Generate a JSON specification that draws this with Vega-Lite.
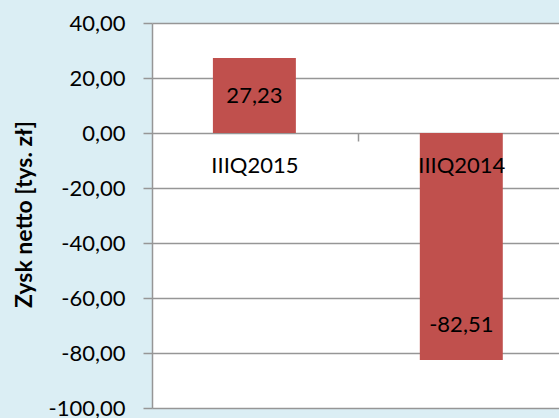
{
  "$schema": "https://vega.github.io/schema/vega-lite/v6.json",
  "width": 407,
  "height": 385,
  "autosize": {"type": "none"},
  "padding": {"left": 152, "top": 23, "right": 0, "bottom": 10},
  "background": "#dbeef4",
  "data": {"values": [
    {"kwartal": "IIIQ2015", "zysk": 27.23},
    {"kwartal": "IIIQ2014", "zysk": -82.51}
  ]},
  "encoding": {
    "x": {
      "field": "kwartal", "type": "nominal", "sort": null,
      "scale": {"paddingInner": 0.599, "paddingOuter": 0.283, "align": 0.52},
      "axis": {
        "title": null, "orient": "bottom", "offset": -275, "domain": false,
        "ticks": true, "tickOffset": 103.5, "labelOffset": -103.5,
        "tickSize": 8, "tickColor": "#969696", "tickWidth": 1.5,
        "grid": false, "labelPadding": 14, "labelFontSize": 22, "labelFont": "Lato",
        "labelColor": "black", "labelAngle": 0, "zindex": 1
      }
    },
    "y": {
      "field": "zysk", "type": "quantitative",
      "scale": {"domain": [-100, 40], "nice": false, "zero": true},
      "axis": {
        "title": "Zysk netto [tys. zł]",
        "values": [-100, -80, -60, -40, -20, 0, 20, 40],
        "format": ".2f",
        "tickSize": 9, "tickColor": "#969696", "tickWidth": 1.5,
        "domainColor": "#969696", "domainWidth": 1.5,
        "grid": true, "gridColor": "#969696", "gridWidth": 1.5,
        "labelPadding": 18, "labelFontSize": 22, "labelFont": "Lato", "labelColor": "black",
        "titleFont": "Lato", "titleFontSize": 23, "titleFontWeight": "bold", "titleColor": "black",
        "titleX": -128, "titleY": 191, "titleBaseline": "middle", "titleAlign": "center", "titleAngle": -90
      }
    }
  },
  "layer": [
    {"mark": {"type": "bar", "color": "#c0504d"}},
    {
      "transform": [{"filter": "datum.zysk >= 0"}],
      "mark": {"type": "text", "dy": 38, "font": "Lato", "fontSize": 22, "color": "black", "baseline": "middle"},
      "encoding": {"text": {"field": "zysk", "type": "quantitative", "format": ".2f"}}
    },
    {
      "transform": [{"filter": "datum.zysk < 0"}],
      "mark": {"type": "text", "dy": -35, "font": "Lato", "fontSize": 22, "color": "black", "baseline": "middle"},
      "encoding": {"text": {"field": "zysk", "type": "quantitative", "format": ".2f"}}
    }
  ],
  "config": {
    "locale": {"number": {"decimal": ",", "thousands": " ", "grouping": [3], "currency": ["", " zł"], "minus": "-"}},
    "view": {"stroke": null, "fill": "white"}
  }
}
